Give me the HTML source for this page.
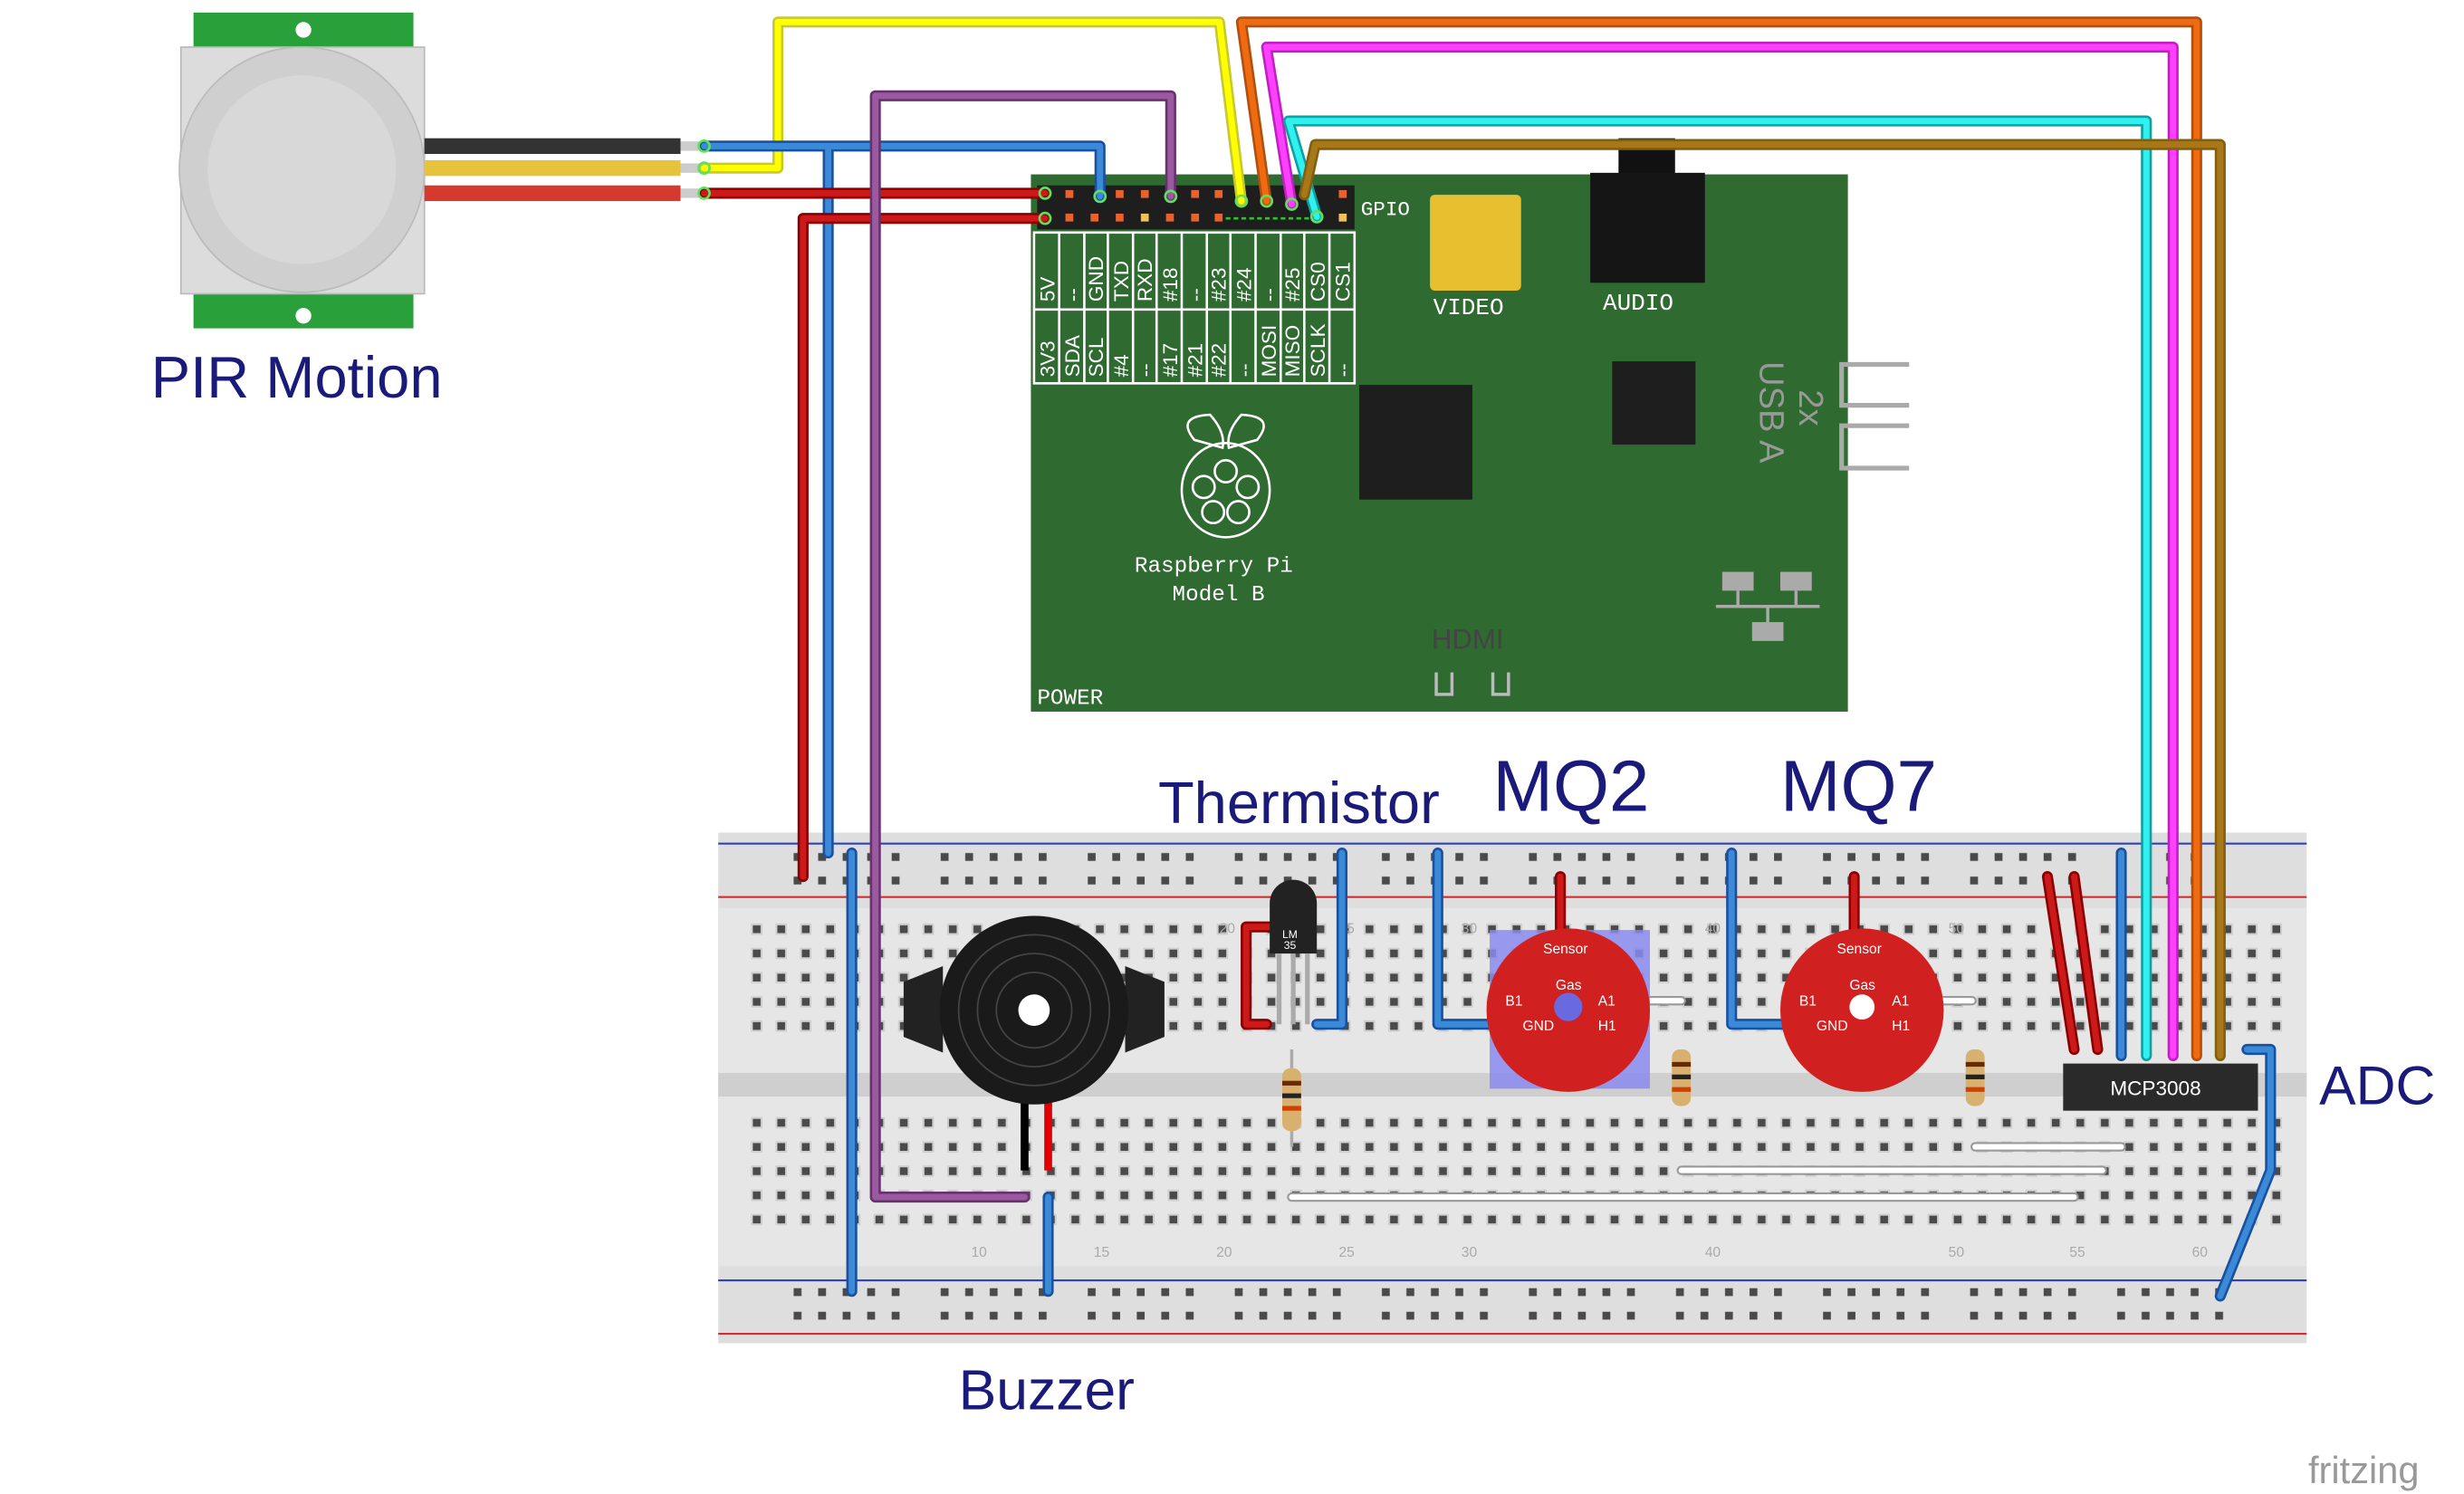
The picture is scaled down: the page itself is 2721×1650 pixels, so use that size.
<!DOCTYPE html>
<html><head><meta charset="utf-8"><style>
html,body{margin:0;padding:0;background:#fff;}
svg{display:block;}
text{font-family:"Liberation Sans","DejaVu Sans",sans-serif;}
.mono{font-family:"Liberation Mono","DejaVu Sans Mono",monospace;}
</style></head><body>
<svg width="2721" height="1650" viewBox="0 0 1568 951" xmlns="http://www.w3.org/2000/svg">
<defs>
<pattern id="mh" x="474" y="584" width="15.6" height="15.4" patternUnits="userSpaceOnUse">
<rect x="5" y="5" width="5" height="5" fill="#4a4a4a"/><rect x="4.3" y="4.3" width="6.4" height="6.4" fill="none" stroke="#ccc" stroke-width="0.8"/>
</pattern>
<pattern id="rh" x="500" y="538" width="93.6" height="15" patternUnits="userSpaceOnUse">
<g fill="#4a4a4a"><rect x="5" y="5" width="5" height="5"/><rect x="20.6" y="5" width="5" height="5"/><rect x="36.2" y="5" width="5" height="5"/><rect x="51.8" y="5" width="5" height="5"/><rect x="67.4" y="5" width="5" height="5"/></g>
</pattern>
<pattern id="rh2" x="500" y="815" width="93.6" height="15" patternUnits="userSpaceOnUse">
<g fill="#4a4a4a"><rect x="5" y="5" width="5" height="5"/><rect x="20.6" y="5" width="5" height="5"/><rect x="36.2" y="5" width="5" height="5"/><rect x="51.8" y="5" width="5" height="5"/><rect x="67.4" y="5" width="5" height="5"/></g>
</pattern>
</defs>

<!-- PIR sensor -->
<rect x="123" y="8" width="140" height="22" fill="#2aa03a"/>
<rect x="123" y="187" width="140" height="22" fill="#2aa03a"/>
<circle cx="193" cy="19" r="5" fill="#fff"/><circle cx="193" cy="201" r="5" fill="#fff"/>
<rect x="115" y="30" width="155" height="157" fill="#dcdcdc" stroke="#bbb"/>
<circle cx="192" cy="108" r="78" fill="#cfcfcf" stroke="#bbb"/>
<circle cx="192" cy="108" r="60" fill="#d8d8d8"/>
<rect x="270" y="88" width="163" height="10" fill="#333"/>
<rect x="270" y="102" width="163" height="10" fill="#e6c33a"/>
<rect x="270" y="118" width="163" height="10" fill="#d63a2e"/>
<rect x="433" y="90" width="15" height="6" fill="#ccc"/><rect x="433" y="104" width="15" height="6" fill="#ccc"/><rect x="433" y="120" width="15" height="6" fill="#ccc"/>
<text x="96" y="253" font-size="37.5" fill="#1a1a7a">PIR Motion</text>

<!-- Raspberry Pi -->
<rect x="656" y="111" width="520" height="342" fill="#2f6a30"/>
<rect x="660" y="118" width="202" height="28" fill="#1e1e1e"/>
<g fill="#e8622e">
<rect x="678" y="121" width="5" height="5"/><rect x="710" y="121" width="5" height="5"/><rect x="726" y="121" width="5" height="5"/><rect x="758" y="121" width="5" height="5"/><rect x="773" y="121" width="5" height="5"/><rect x="852" y="121" width="5" height="5"/>
<rect x="678" y="136" width="5" height="5"/><rect x="694" y="136" width="5" height="5"/><rect x="710" y="136" width="5" height="5"/><rect x="742" y="136" width="5" height="5"/><rect x="758" y="136" width="5" height="5"/><rect x="773" y="136" width="5" height="5"/><rect x="726" y="136" width="5" height="5" fill="#f0c060"/><rect x="852" y="136" width="5" height="5" fill="#f0c060"/>
</g>
<path d="M780 139 H838" stroke="#30c030" stroke-width="1.5" stroke-dasharray="3 2"/>
<text x="866" y="137" font-size="13" fill="#fff" class="mono">GPIO</text>
<g fill="none" stroke="#fff" stroke-width="1.5">
<rect x="658" y="148" width="204" height="96"/>
<line x1="658" y1="197" x2="862" y2="197"/>
<line x1="674" y1="148" x2="674" y2="244"/><line x1="690" y1="148" x2="690" y2="244"/><line x1="705" y1="148" x2="705" y2="244"/><line x1="721" y1="148" x2="721" y2="244"/><line x1="736" y1="148" x2="736" y2="244"/><line x1="752" y1="148" x2="752" y2="244"/><line x1="768" y1="148" x2="768" y2="244"/><line x1="783" y1="148" x2="783" y2="244"/><line x1="799" y1="148" x2="799" y2="244"/><line x1="815" y1="148" x2="815" y2="244"/><line x1="830" y1="148" x2="830" y2="244"/><line x1="846" y1="148" x2="846" y2="244"/>
</g>
<g font-size="13" fill="#fff" class="mono">
<text transform="translate(671,192) rotate(-90)">5V</text><text transform="translate(687,192) rotate(-90)">--</text><text transform="translate(702,192) rotate(-90)">GND</text><text transform="translate(718,192) rotate(-90)">TXD</text><text transform="translate(733,192) rotate(-90)">RXD</text><text transform="translate(749,192) rotate(-90)">#18</text><text transform="translate(765,192) rotate(-90)">--</text><text transform="translate(780,192) rotate(-90)">#23</text><text transform="translate(796,192) rotate(-90)">#24</text><text transform="translate(812,192) rotate(-90)">--</text><text transform="translate(827,192) rotate(-90)">#25</text><text transform="translate(843,192) rotate(-90)">CS0</text><text transform="translate(859,192) rotate(-90)">CS1</text>
<text transform="translate(671,240) rotate(-90)">3V3</text><text transform="translate(687,240) rotate(-90)">SDA</text><text transform="translate(702,240) rotate(-90)">SCL</text><text transform="translate(718,240) rotate(-90)">#4</text><text transform="translate(733,240) rotate(-90)">--</text><text transform="translate(749,240) rotate(-90)">#17</text><text transform="translate(765,240) rotate(-90)">#21</text><text transform="translate(780,240) rotate(-90)">#22</text><text transform="translate(796,240) rotate(-90)">--</text><text transform="translate(812,240) rotate(-90)">MOSI</text><text transform="translate(827,240) rotate(-90)">MISO</text><text transform="translate(843,240) rotate(-90)">SCLK</text><text transform="translate(859,240) rotate(-90)">--</text>
</g>
<rect x="910" y="124" width="58" height="61" fill="#e6c02e" rx="3"/>
<text x="912" y="200" font-size="15" fill="#fff" class="mono">VIDEO</text>
<rect x="1030" y="88" width="36" height="25" fill="#111"/>
<rect x="1012" y="110" width="73" height="70" fill="#151515"/>
<text x="1020" y="197" font-size="15" fill="#fff" class="mono">AUDIO</text>
<rect x="865" y="245" width="72" height="73" fill="#1e1e1e"/>
<rect x="1026" y="230" width="53" height="53" fill="#1e1e1e"/>
<g fill="none" stroke="#aaa" stroke-width="3"><path d="M1215 232 H1172 V258 H1215"/><path d="M1215 271 H1172 V298 H1215"/></g>
<text transform="translate(1120,230) rotate(90)" font-size="22" fill="#999">USB A</text>
<text transform="translate(1145,248) rotate(90)" font-size="22" fill="#999">2x</text>
<g fill="#aaa"><rect x="1096" y="364" width="20" height="12"/><rect x="1133" y="364" width="20" height="12"/><rect x="1115" y="396" width="20" height="12"/></g>
<path d="M1106 376 V386 H1143 V376 M1125 386 V396 M1092 386 H1158" stroke="#aaa" fill="none" stroke-width="2"/>
<text x="911" y="413" font-size="18" fill="#444">HDMI</text>
<path d="M914 428 V442 H924 V428 M950 428 V442 H960 V428" stroke="#bbb" fill="none" stroke-width="2"/>
<g fill="none" stroke="#fff" stroke-width="1.5">
<path d="M760 280 Q748 265 770 264 Q780 275 778 285 Z M800 280 Q812 265 790 264 Q780 275 782 285 Z"/>
<ellipse cx="780" cy="312" rx="28" ry="30"/>
<circle cx="780" cy="300" r="7"/><circle cx="766" cy="310" r="7"/><circle cx="794" cy="310" r="7"/><circle cx="772" cy="326" r="7"/><circle cx="788" cy="326" r="7"/>
</g>
<text x="722" y="364" font-size="14" fill="#fff" class="mono">Raspberry Pi</text>
<text x="746" y="382" font-size="14" fill="#fff" class="mono">Model B</text>
<text x="660" y="448" font-size="14" fill="#fff" class="mono">POWER</text>

<!-- Breadboard -->
<rect x="457" y="530" width="1011" height="325" fill="#dedede"/>
<rect x="457" y="578" width="1011" height="228" fill="#e6e6e6"/>
<rect x="457" y="683" width="1011" height="15" fill="#cfcfcf"/>
<line x1="457" y1="537" x2="1468" y2="537" stroke="#3040c0" stroke-width="1.2"/>
<line x1="457" y1="571" x2="1468" y2="571" stroke="#d03030" stroke-width="1.2"/>
<line x1="457" y1="815" x2="1468" y2="815" stroke="#3040c0" stroke-width="1.2"/>
<line x1="457" y1="849" x2="1468" y2="849" stroke="#d03030" stroke-width="1.2"/>
<rect x="500" y="538" width="935" height="30" fill="url(#rh)"/>
<rect x="500" y="815" width="935" height="30" fill="url(#rh2)"/>
<rect x="474" y="584" width="980" height="77" fill="url(#mh)"/>
<rect x="474" y="707" width="980" height="77" fill="url(#mh)"/>
<g font-size="9" fill="#aaa"><text x="776" y="594">20</text><text x="852" y="594">25</text><text x="930" y="594">30</text><text x="1085" y="594">40</text><text x="1240" y="594">50</text><text x="618" y="800">10</text><text x="696" y="800">15</text><text x="774" y="800">20</text><text x="852" y="800">25</text><text x="930" y="800">30</text><text x="1085" y="800">40</text><text x="1240" y="800">50</text><text x="1317" y="800">55</text><text x="1395" y="800">60</text></g>

<!-- Wires -->
<g fill="none" stroke-linejoin="round" stroke-linecap="round">
<path d="M448 107 H495 V14 H776 L790 128" stroke="#c8c830" stroke-width="7"/><path d="M448 107 H495 V14 H776 L790 128" stroke="#ffff00" stroke-width="4"/>
<path d="M806 128 L790 14 H1398 V672" stroke="#b05010" stroke-width="7"/><path d="M806 128 L790 14 H1398 V672" stroke="#f06a10" stroke-width="4"/>
<path d="M822 130 L806 30 H1383 V672" stroke="#c020c0" stroke-width="7"/><path d="M822 130 L806 30 H1383 V672" stroke="#ff40ff" stroke-width="4"/>
<path d="M838 138 L820 77 H1366 V672" stroke="#10a0a0" stroke-width="7"/><path d="M838 138 L820 77 H1366 V672" stroke="#30f0f0" stroke-width="4"/>
<path d="M830 124 L837 92 H1413 V672" stroke="#806010" stroke-width="7"/><path d="M830 124 L837 92 H1413 V672" stroke="#a87818" stroke-width="4"/>
<path d="M448 93 H700 V125 M527 93 V543" stroke="#1a50a0" stroke-width="7"/><path d="M448 93 H700 V125 M527 93 V543" stroke="#3a8ad8" stroke-width="4"/>
<path d="M448 123 H665" stroke="#8a0000" stroke-width="7"/><path d="M448 123 H665" stroke="#cc1a1a" stroke-width="4"/>
<path d="M665 139 H511 V558" stroke="#8a0000" stroke-width="7"/><path d="M665 139 H511 V558" stroke="#cc1a1a" stroke-width="4"/>
<path d="M745 125 V61 H557 V762 H652" stroke="#6a3070" stroke-width="7"/><path d="M745 125 V61 H557 V762 H652" stroke="#9a5aa0" stroke-width="4"/>
<path d="M542 543 V822 M667 762 V822 M854 543 V652 H838 M915 543 V652 H960 M1102 543 V652 H1145 M1350 543 V672 M1430 668 H1445 V745 L1413 825" stroke="#1a50a0" stroke-width="7"/>
<path d="M542 543 V822 M667 762 V822 M854 543 V652 H838 M915 543 V652 H960 M1102 543 V652 H1145 M1350 543 V672 M1430 668 H1445 V745 L1413 825" stroke="#3a8ad8" stroke-width="4"/>
<path d="M1303 558 L1320 668 M1320 558 L1335 668 M808 590 H793 V652 H806 M993 558 V608 M1180 558 V608" stroke="#8a0000" stroke-width="7"/>
<path d="M1303 558 L1320 668 M1320 558 L1335 668 M808 590 H793 V652 H806 M993 558 V608 M1180 558 V608" stroke="#cc1a1a" stroke-width="4"/>
<path d="M822 762 H1320 M1070 745 H1338 M1257 730 H1350 M1040 637 H1070 M1228 637 H1255" stroke="#999" stroke-width="6"/>
<path d="M822 762 H1320 M1070 745 H1338 M1257 730 H1350 M1040 637 H1070 M1228 637 H1255" stroke="#fff" stroke-width="3.5"/>
</g>
<g fill="none" stroke="#5fe05f" stroke-width="1.5">
<circle cx="448" cy="93" r="3.5"/><circle cx="448" cy="107" r="3.5"/><circle cx="448" cy="123" r="3.5"/>
<circle cx="665" cy="123" r="3.5"/><circle cx="665" cy="139" r="3.5"/><circle cx="700" cy="125" r="3.5"/><circle cx="745" cy="125" r="3.5"/><circle cx="790" cy="128" r="3.5"/><circle cx="806" cy="128" r="3.5"/><circle cx="822" cy="130" r="3.5"/><circle cx="838" cy="138" r="3.5"/>
</g>

<!-- Thermistor -->
<path d="M808 575 A15 15 0 0 1 838 575 V607 H808 Z" fill="#222"/>
<text x="816" y="597" font-size="7" fill="#fff">LM</text><text x="817" y="604" font-size="7" fill="#fff">35</text>
<path d="M814 607 V652 M823 607 V652 M832 607 V652" stroke="#aaa" stroke-width="3"/>
<g><rect x="816" y="680" width="12" height="40" rx="5" fill="#d8b070"/><rect x="816" y="688" width="12" height="3" fill="#6a2a00"/><rect x="816" y="696" width="12" height="3" fill="#222"/><rect x="816" y="704" width="12" height="3" fill="#d04000"/><path d="M822 668 V680 M822 720 V730" stroke="#aaa" stroke-width="2"/></g>
<g><rect x="1064" y="668" width="12" height="36" rx="5" fill="#d8b070"/><rect x="1064" y="676" width="12" height="3" fill="#6a2a00"/><rect x="1064" y="684" width="12" height="3" fill="#222"/><rect x="1064" y="692" width="12" height="3" fill="#d04000"/></g>
<g><rect x="1251" y="668" width="12" height="36" rx="5" fill="#d8b070"/><rect x="1251" y="676" width="12" height="3" fill="#6a2a00"/><rect x="1251" y="684" width="12" height="3" fill="#222"/><rect x="1251" y="692" width="12" height="3" fill="#d04000"/></g>

<!-- Buzzer -->
<path d="M652 745 V700" stroke="#000" stroke-width="5"/>
<path d="M667 745 V700" stroke="#e00000" stroke-width="5"/>
<path d="M575 625 L600 615 L600 670 L575 660 Z M741 625 L716 615 L716 670 L741 660 Z" fill="#222"/>
<circle cx="658" cy="643" r="60" fill="#1a1a1a"/>
<circle cx="658" cy="643" r="48" fill="none" stroke="#444" stroke-width="1"/>
<circle cx="658" cy="643" r="36" fill="none" stroke="#444" stroke-width="1"/>
<circle cx="658" cy="643" r="24" fill="none" stroke="#444" stroke-width="1"/>
<circle cx="658" cy="643" r="10" fill="#fff"/>

<!-- MQ2 -->
<rect x="948" y="592" width="102" height="101" fill="#8a8af0" opacity="0.85"/>
<circle cx="998" cy="643" r="52" fill="#d02020"/>
<circle cx="998" cy="641" r="9" fill="#6a6ae0"/>
<text x="982" y="607" font-size="9" fill="#fff">Sensor</text><text x="990" y="630" font-size="9" fill="#fff">Gas</text>
<text x="958" y="640" font-size="9" fill="#fff">B1</text><text x="969" y="656" font-size="9" fill="#fff">GND</text><text x="1017" y="640" font-size="9" fill="#fff">A1</text><text x="1017" y="656" font-size="9" fill="#fff">H1</text>
<!-- MQ7 -->
<circle cx="1185" cy="643" r="52" fill="#d02020"/>
<circle cx="1185" cy="641" r="8" fill="#fff"/>
<text x="1169" y="607" font-size="9" fill="#fff">Sensor</text><text x="1177" y="630" font-size="9" fill="#fff">Gas</text>
<text x="1145" y="640" font-size="9" fill="#fff">B1</text><text x="1156" y="656" font-size="9" fill="#fff">GND</text><text x="1204" y="640" font-size="9" fill="#fff">A1</text><text x="1204" y="656" font-size="9" fill="#fff">H1</text>

<!-- MCP3008 -->
<rect x="1313" y="677" width="124" height="30" fill="#2a2a2a"/>
<text x="1343" y="697" font-size="13" fill="#fff">MCP3008</text>

<!-- Labels -->
<g fill="#1a1a7a">
<text x="737" y="524" font-size="37.5">Thermistor</text>
<text x="950" y="516" font-size="46">MQ2</text>
<text x="1133" y="516" font-size="46">MQ7</text>
<text x="1476" y="703" font-size="35">ADC</text>
<text x="610" y="897" font-size="36">Buzzer</text>
</g>
<text x="1469" y="944" font-size="24" fill="#999">fritzing</text>
</svg>
</body></html>
